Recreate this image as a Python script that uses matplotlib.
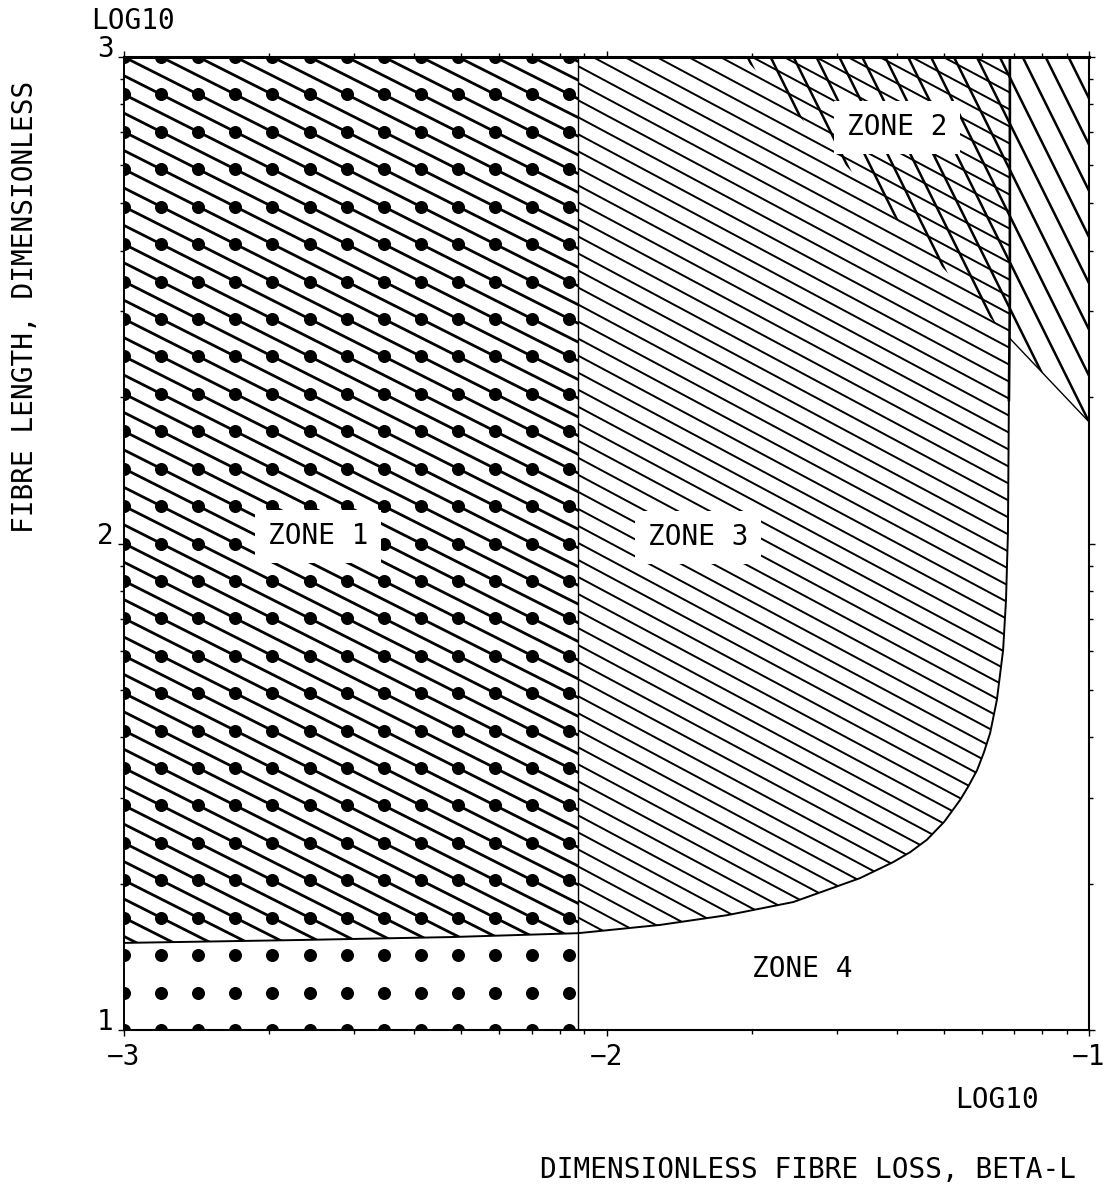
import numpy as np
import matplotlib
matplotlib.use("Agg")
import matplotlib.pyplot as plt
from matplotlib.collections import LineCollection
from matplotlib.patches import Polygon
from matplotlib.ticker import FixedLocator

# ---------------------------------------------------------------------------
# Zone boundaries (log10 of dimensionless fibre loss / fibre length)
# ---------------------------------------------------------------------------
# Lower boundary of zones 1 and 3 (zone 4 lies below it); it turns vertical
# and runs up to the top of the chart along its asymptote.
curve_log_beta = [-3.000, -2.635, -2.324, -2.059, -1.889, -1.750, -1.613,
                  -1.475, -1.406, -1.370, -1.336, -1.300, -1.267, -1.250,
                  -1.232, -1.218, -1.205, -1.191, -1.178, -1.172, -1.168,
                  -1.166, -1.164, -1.164]
curve_log_length = [1.179, 1.185, 1.191, 1.199, 1.216, 1.236, 1.263,
                    1.312, 1.345, 1.366, 1.391, 1.428, 1.473, 1.501,
                    1.534, 1.570, 1.610, 1.678, 1.781, 1.884, 2.022,
                    2.295, 2.500, 3.000]

# Vertical boundary between zone 1 and zone 3
zone13_log_beta = -2.059

# Lower edge of the steep cross-hatching (zone 2 and the strip beyond it)
zone2_edge_log_beta = [-1.717, -1.000]
zone2_edge_log_length = [3.000, 2.250]

# Axis ticks and labels
x_ticks = [-3, -2, -1]
x_tick_labels = ["\u22123", "\u22122", "\u22121"]
y_ticks = [1, 2, 3]
y_tick_labels = ["1", "2", "3"]

# Zone captions
zone_labels = ["ZONE 1", "ZONE 2", "ZONE 3", "ZONE 4"]
zone_label_x = [-2.598, -1.398, -1.810, -1.595]
zone_label_y = [2.015, 2.856, 2.013, 1.125]

# ---------------------------------------------------------------------------
FONT = "DejaVu Sans Mono"
FS = 20
plt.rcParams["font.family"] = [FONT, "DejaVu Sans"]

W, H = 1117, 1190
fig = plt.figure(figsize=(W / 100, H / 100), dpi=100)
fig.patch.set_facecolor("white")
ax = fig.add_axes([124 / W, 1 - 1030 / H, (1089 - 124) / W, (1030 - 57) / H])
ax.set_xlim(-3, -1)
ax.set_ylim(1, 3)

cx = np.asarray(curve_log_beta)
cy = np.asarray(curve_log_length)
y13 = np.interp(zone13_log_beta, cx, cy)

# Region polygons used to clip the fill patterns
left = cx < zone13_log_beta
right = cx > zone13_log_beta
zone1_poly = ([(-3.0, 3.0)] + list(zip(cx[left], cy[left]))
              + [(zone13_log_beta, y13), (zone13_log_beta, 3.0)])
zone3_poly = ([(zone13_log_beta, 3.0), (zone13_log_beta, y13)]
              + list(zip(cx[right], cy[right])))
steep_poly = [(zone2_edge_log_beta[0], zone2_edge_log_length[0]),
              (-1.0, 3.0),
              (zone2_edge_log_beta[1], zone2_edge_log_length[1])]
dots_poly = [(-3.0, 1.0), (zone13_log_beta, 1.0),
             (zone13_log_beta, 3.0), (-3.0, 3.0)]


def clip_patch(poly):
    p = Polygon(poly, closed=True, transform=ax.transData,
                fill=False, edgecolor="none")
    ax.add_patch(p)
    return p


def hatch(poly, slope, step, lw, y0=3.0):
    """Parallel lines y = y0 + k*step - slope*(x + 3), clipped to poly."""
    kmin = int(np.floor(-2.5 / step))
    kmax = int(np.ceil((2.0 * slope + 0.5) / step))
    segs = [[(-3.0, y0 + k * step), (-1.0, y0 + k * step - 2.0 * slope)]
            for k in range(kmin, kmax + 1)]
    lc = LineCollection(segs, colors="black", linewidths=lw,
                        capstyle="round", zorder=2)
    lc.set_clip_path(clip_patch(poly))
    ax.add_collection(lc)


# Zone 1: heavy diagonal hatching
hatch(zone1_poly, slope=0.5, step=1 / 26, lw=2.0)
# Zone 3 (and zone 2): finer diagonal hatching
hatch(zone3_poly, slope=0.53, step=0.035, lw=1.4, y0=2.99)
# Zone 2 and the strip to its right: steep hatching
hatch(steep_poly, slope=2.0, step=0.095, lw=1.8, y0=3.02)

# Dot pattern over zone 1 and the strip below it
gx, gy = np.meshgrid(-3 + np.arange(13) / 13, 3 - np.arange(27) / 13)
dots = ax.scatter(gx.ravel(), gy.ravel(), s=88, color="black",
                  linewidths=0, zorder=3)
dots.set_clip_path(clip_patch(dots_poly))

# Boundary lines
ax.plot(cx[:-2], cy[:-2], color="black", lw=1.4, zorder=4,
        solid_joinstyle="round")
ax.plot(cx[-3:], cy[-3:], color="black", lw=1.9, zorder=4)
ax.plot([zone13_log_beta, zone13_log_beta], [1, 3], color="black",
        lw=1.0, zorder=4)
edge_slope = ((zone2_edge_log_length[1] - zone2_edge_log_length[0])
              / (zone2_edge_log_beta[1] - zone2_edge_log_beta[0]))
edge_y_at_asym = (zone2_edge_log_length[0]
                  + edge_slope * (cx[-1] - zone2_edge_log_beta[0]))
ax.plot([cx[-1], zone2_edge_log_beta[1]],
        [edge_y_at_asym, zone2_edge_log_length[1]],
        color="black", lw=1.0, zorder=4)

# Zone captions on white patches that break the hatching
for lab, x, y in zip(zone_labels, zone_label_x, zone_label_y):
    ax.text(x, y, lab, ha="center", va="center", fontsize=FS,
            family=FONT, zorder=6,
            bbox=dict(boxstyle="square,pad=0.45", fc="white", ec="none"))

# Axes frame and ticks
for side, lw in (("top", 2.2), ("left", 1.4), ("bottom", 1.5), ("right", 1.5)):
    ax.spines[side].set_linewidth(lw)
    ax.spines[side].set_zorder(7)

ax.set_xticks(x_ticks, x_tick_labels)
ax.set_yticks(y_ticks, y_tick_labels)
ax.xaxis.set_minor_locator(FixedLocator(
    [d + np.log10(k) for d in (-3, -2) for k in range(2, 10)]))
ax.yaxis.set_minor_locator(FixedLocator(
    [d + np.log10(k) for d in (1, 2) for k in range(2, 10)]))
ax.tick_params(which="both", direction="out", top=True, right=True,
               labeltop=False, labelright=False, width=1.0, color="black")
ax.tick_params(which="major", length=4.5)
ax.tick_params(which="minor", length=3.0)
ax.tick_params(axis="x", which="major", pad=5, labelsize=FS)
ax.tick_params(axis="y", which="major", pad=3, labelsize=FS)
for t in ax.get_yticklabels():
    t.set_verticalalignment("baseline")

# Axis titles
fig.text(133 / W, 1 - 21 / H, "LOG10", ha="center", va="center",
         fontsize=FS, family=FONT)
fig.text(997 / W, 1 - 1100 / H, "LOG10", ha="center", va="center",
         fontsize=FS, family=FONT)
fig.text(540 / W, 1 - 1170 / H, "DIMENSIONLESS FIBRE LOSS, BETA-L",
         ha="left", va="center", fontsize=FS, family=FONT)
fig.text(25 / W, 1 - 307 / H, "FIBRE LENGTH, DIMENSIONLESS",
         ha="center", va="center", rotation=90, fontsize=FS, family=FONT)

fig.savefig("out.png", dpi=100, facecolor="white")
